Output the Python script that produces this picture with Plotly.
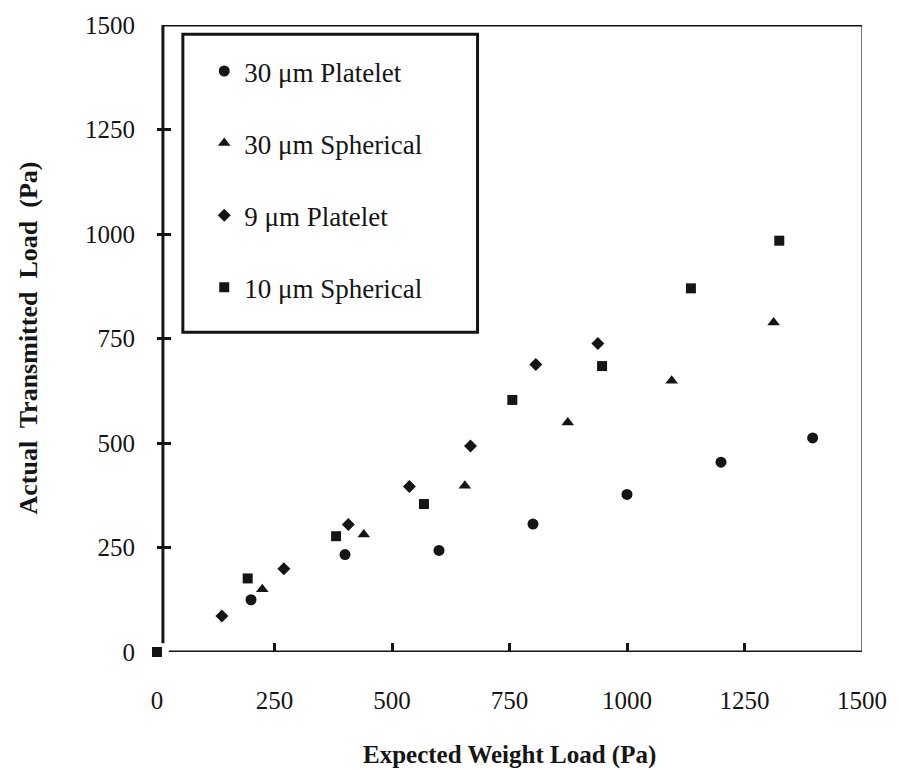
import plotly.graph_objects as go

# ---- data ----
platelet30_x = [200, 400, 600, 800, 1000, 1200, 1395]
platelet30_y = [125, 233, 243, 306, 377, 454, 512]

spherical30_x = [224, 440, 655, 874, 1095, 1312]
spherical30_y = [150, 281, 398, 549, 649, 788]

platelet9_x = [138, 270, 407, 537, 667, 806, 938]
platelet9_y = [86, 199, 305, 396, 493, 688, 738]

spherical10_x = [0, 193, 381, 568, 756, 947, 1136, 1324]
spherical10_y = [0, 176, 277, 354, 603, 684, 870, 984]

tick_vals = [0, 250, 500, 750, 1000, 1250, 1500]
tick_text = ["0", "250", "500", "750", "1000", "1250", "1500"]
inner_ticks = [250, 500, 750, 1000, 1250]

INK = "#151515"
FONT = "Liberation Serif, Times New Roman, serif"

fig = go.Figure()

series = [
    ("30 μm Platelet", platelet30_x, platelet30_y, "circle", 11),
    ("30 μm Spherical", spherical30_x, spherical30_y, "triangle-up", 11),
    ("9 μm Platelet", platelet9_x, platelet9_y, "diamond", 10),
    ("10 μm Spherical", spherical10_x, spherical10_y, "square", 10),
]
for i, (name, xs, ys, sym, sz) in enumerate(series):
    fig.add_trace(go.Scatter(
        x=xs, y=ys, mode="markers", name=name, legendgroup=str(i),
        marker=dict(symbol=sym, size=sz, color=INK, line=dict(width=0)),
        cliponaxis=False,
    ))

shapes = []
line_style = dict(color=INK, width=3)
x_left, y_low_left = 12.6, 21
x_right, x_low_bottom = 1502, 25
# frame
shapes.append(dict(type="line", xref="x", yref="y", x0=x_left, x1=x_left, y0=y_low_left, y1=1500, line=line_style))
shapes.append(dict(type="line", xref="x", yref="y", x0=x_left, x1=x_right, y0=1500, y1=1500, line=line_style))
shapes.append(dict(type="line", xref="x", yref="y", x0=x_right, x1=x_right, y0=0, y1=1500, line=line_style))
shapes.append(dict(type="line", xref="x", yref="y", x0=x_low_bottom, x1=x_right, y0=0, y1=0, line=line_style))
# legend box
shapes.append(dict(type="rect", xref="x", yref="y", x0=55, x1=682, y0=765, y1=1478,
                   line=dict(color=INK, width=3), fillcolor="rgba(0,0,0,0)"))

minor_x = dict(tickmode="array", tickvals=inner_ticks, ticks="inside", ticklen=9,
               tickwidth=2.5, tickcolor=INK, showgrid=False)
minor_y = dict(tickmode="array", tickvals=inner_ticks, ticks="inside", ticklen=14,
               tickwidth=2.5, tickcolor=INK, showgrid=False)

fig.update_layout(
    width=899, height=770,
    margin=dict(l=157, r=30, t=23, b=118),
    paper_bgcolor="white", plot_bgcolor="white",
    font=dict(family=FONT, size=25, color=INK),
    shapes=shapes,
    showlegend=True,
    legend=dict(
        x=0.067, y=0.965, xanchor="left", yanchor="top",
        bgcolor="rgba(0,0,0,0)", borderwidth=0,
        font=dict(family=FONT, size=27, color=INK),
        tracegroupgap=34, traceorder="grouped",
    ),
    xaxis=dict(range=[0, 1500], showgrid=False, zeroline=False, showline=False,
               ticks="", tickvals=tick_vals, ticktext=tick_text, minor=minor_x,
               ticklabelstandoff=31, tickfont=dict(size=25)),
    yaxis=dict(range=[0, 1500], showgrid=False, zeroline=False, showline=False,
               ticks="", tickvals=tick_vals, ticktext=tick_text, minor=minor_y,
               ticklabelstandoff=21, tickfont=dict(size=25)),
    annotations=[
        dict(text="<b>Expected Weight Load (Pa)</b>", xref="paper", yref="paper",
             x=0.5, y=0, yshift=-103, showarrow=False, xanchor="center", yanchor="middle",
             font=dict(family=FONT, size=25, color=INK)),
        dict(text="<b>Actual  Transmitted  Load  (Pa)</b>", xref="paper", yref="paper",
             x=0, y=0.5, xshift=-129, showarrow=False, textangle=-90,
             xanchor="center", yanchor="middle",
             font=dict(family=FONT, size=26, color=INK)),
    ],
)

fig.write_html("out.html")
